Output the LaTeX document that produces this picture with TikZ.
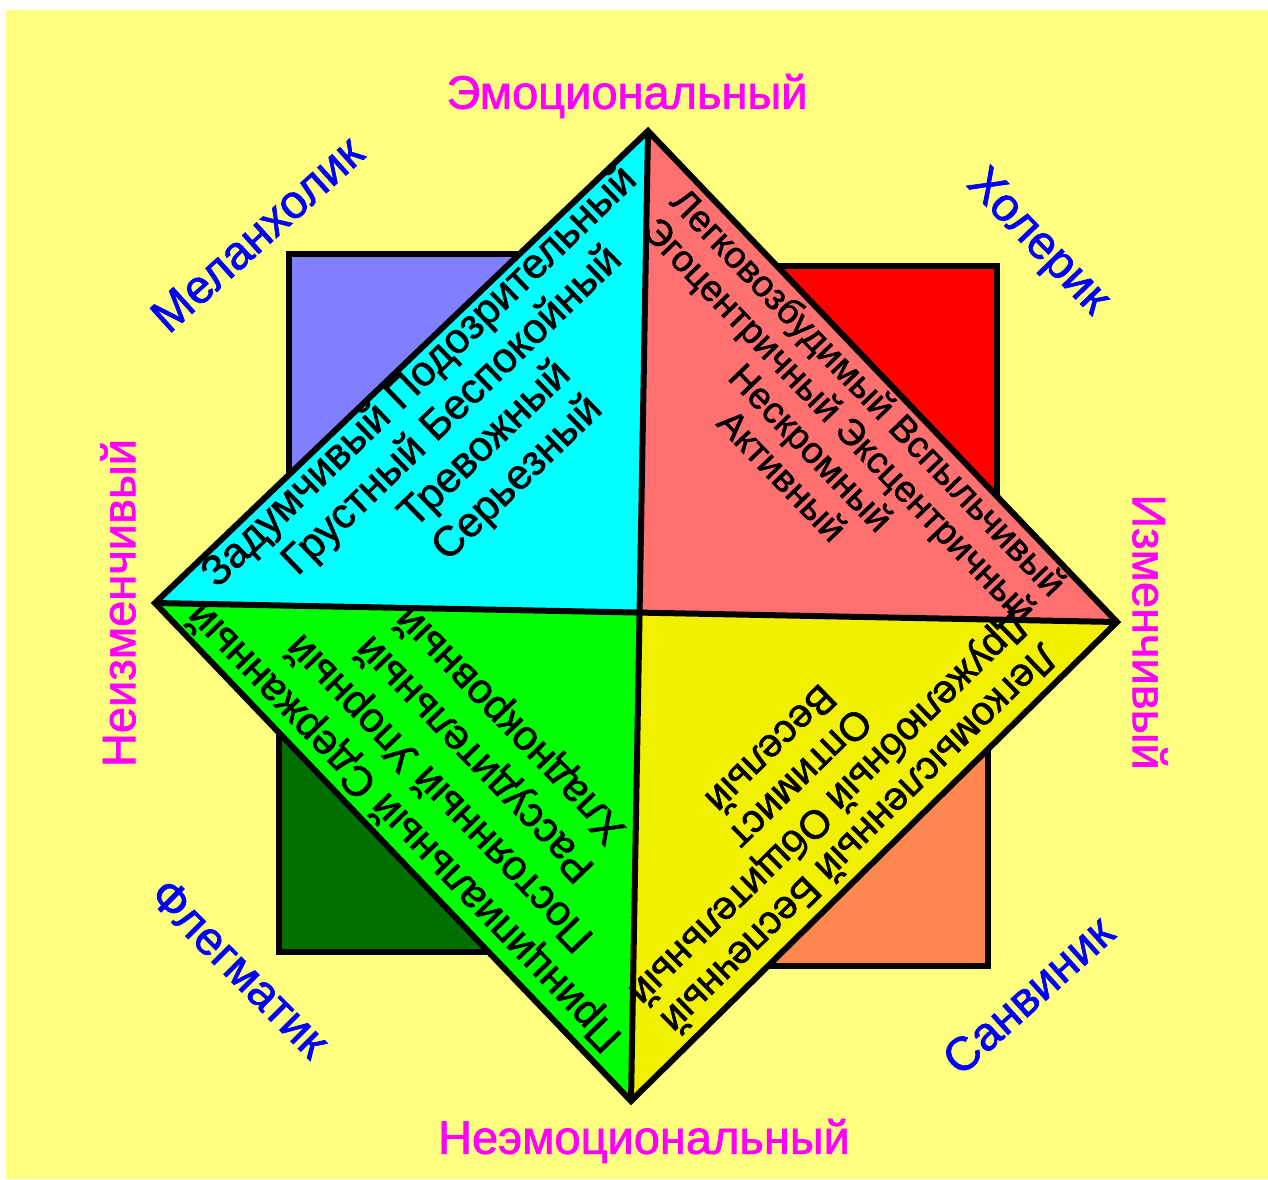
\documentclass[tikz,border=0pt]{standalone}
\usepackage{fontspec}
\setmainfont{Liberation Sans}[FakeBold=1.5]
\definecolor{bgyel}{HTML}{FFFF80}
\definecolor{sqblue}{HTML}{8080FF}
\definecolor{sqred}{HTML}{FF0000}
\definecolor{sqgreen}{HTML}{007000}
\definecolor{sqorange}{HTML}{FF8850}
\definecolor{trcyan}{HTML}{00FFFF}
\definecolor{trsalmon}{HTML}{FF7070}
\definecolor{trgreen}{HTML}{00FF00}
\definecolor{tryellow}{HTML}{F0F000}
\definecolor{axmag}{HTML}{FF00FF}
\definecolor{typblue}{HTML}{0000FF}
\begin{document}
\begin{tikzpicture}[x=1pt,y=-1pt,
  edge/.style={draw=black,line width=6pt,line join=miter},
  lab/.style={inner sep=0pt,font=\fontsize{47}{52}\selectfont},
  typ/.style={lab,text=typblue},
  axl/.style={lab,text=axmag},
  blk/.style={inner sep=0pt,align=center,text=black}]
\useasboundingbox (0,0) rectangle (1268,1179);
\fill[white] (0,0) rectangle (1268,1179);
\fill[bgyel] (6,10) rectangle (1268,1179);
% centre and diamond vertices
\coordinate (C) at (640,612);
\coordinate (T) at (648,131);
\coordinate (R) at (1117,622);
\coordinate (B) at (631,1101);
\coordinate (L) at (155,603);
% corner squares
\coordinate (sqA) at (289,254);
\coordinate (sqB) at (997,266);
\coordinate (sqC) at (988,966);
\coordinate (sqD) at (279,952);
\filldraw[edge,fill=sqblue] (sqA) rectangle (C);
\filldraw[edge,fill=sqred] (sqB) rectangle (C);
\filldraw[edge,fill=sqorange] (sqC) rectangle (C);
\filldraw[edge,fill=sqgreen] (sqD) rectangle (C);
% diamond quarters
\fill[trcyan] (L) -- (T) -- (C) -- cycle;
\fill[trsalmon] (T) -- (R) -- (C) -- cycle;
\fill[tryellow] (R) -- (B) -- (C) -- cycle;
\fill[trgreen] (B) -- (L) -- (C) -- cycle;
\draw[edge] (L) -- (T) -- (R) -- (B) -- cycle;
\draw[edge] (L) -- (R);
\draw[edge] (T) -- (B);
% quarter texts
\node[blk,rotate=44,font=\fontsize{42}{47}\selectfont] (tl) at (469,428)
  {Задумчивый Подозрительный\\Грустный Беспокойный\\Тревожный\\Серьезный};
\node[blk,rotate=-46,font=\fontsize{37}{40}\selectfont] (tr) at (826,433)
  {Легковозбудимый Вспыльчивый\\Эгоцентричный Эксцентричный\\Нескромный\\Активный};
\node[blk,rotate=134,font=\fontsize{42}{49}\selectfont] (bl) at (458,775)
  {Принципиальный Сдержанный\\Постоянный Упорный\\Рассудительный\\Хладнокровный};
\node[blk,rotate=224.5,font=\fontsize{40}{42}\selectfont] (br) at (816,795)
  {Легкомысленный Беспечный\\Дружелюбный Общительный\\Оптимист\\Веселый};
% axis labels
\node[axl] (emo) at (627,96) {Эмоциональный};
\node[axl] (nemo) at (644,1141) {Неэмоциональный};
\node[axl,rotate=90] (nizm) at (118,603) {Неизменчивый};
\node[axl,rotate=-90] (izm) at (1150,632) {Изменчивый};
% temperament labels
\node[typ,rotate=42] (mel) at (257,234) {Меланхолик};
\node[typ,rotate=-46] (hol) at (1037,243) {Холерик};
\node[typ,rotate=-45] (fleg) at (240,968) {Флегматик};
\node[typ,rotate=42] (sang) at (1028,995) {Санвиник};
\end{tikzpicture}
\end{document}
